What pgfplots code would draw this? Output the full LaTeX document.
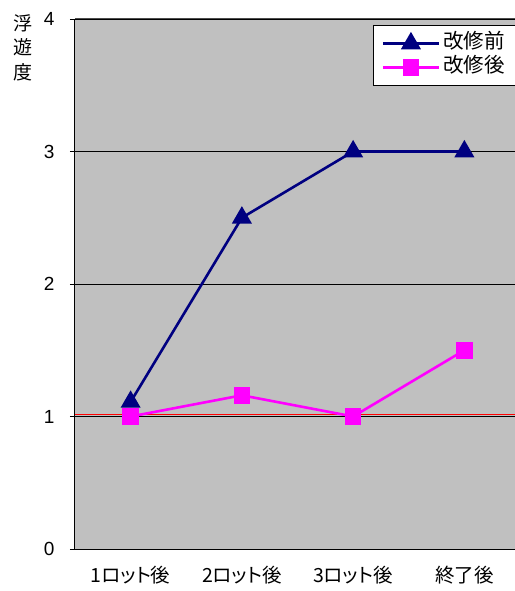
\documentclass[border=0pt]{standalone}
\usepackage{pgfplots}
\pgfplotsset{compat=1.18}
\usepackage{fontspec}
\setmainfont{Liberation Sans}
\newfontfamily\jp{Noto Sans CJK JP}
\newfontfamily\jpp[RawFeature=+palt]{Noto Sans CJK JP}
\definecolor{bg}{HTML}{C0C0C0}
\definecolor{navyc}{HTML}{000080}
\definecolor{magc}{HTML}{FF00FF}
\begin{document}
\begin{tikzpicture}
\begin{axis}[
  at={(0,0)}, anchor=south west,
  scale only axis, width=445pt, height=530pt,
  xmin=-0.5, xmax=3.5, ymin=0, ymax=4,
  axis background/.style={fill=bg},
  axis line style={black, line width=1pt},
  xtick={0,1,2,3},
  xticklabels={{\jpp 1ロット後},{\jpp 2ロット後},{\jpp 3ロット後},{\jpp 終了後}},
  x tick label style={font=\fontsize{19.5}{19.5}\selectfont, yshift=-9pt},
  major x tick style={draw=none},
  extra x ticks={0.5,1.5,2.5},
  extra x tick labels={},
  extra x tick style={tick align=inside, major tick length=5pt, grid=none, black, thin},
  ytick={0,1,2,3,4},
  ymajorgrids, grid style={black, line width=0.8pt},
  y tick label style={font=\fontsize{19}{19}\selectfont, xshift=-12pt},
  tick align=outside, major tick length=5pt,
  y tick style={black},
  /pgf/number format/assume math mode=true,
  axis x line*=bottom, axis y line*=left,
  clip=false,
  legend style={at={(axis cs:2.18,3.955)}, anchor=north west, draw=black, line width=1pt, fill=white,
    font=\fontsize{20.5}{20.5}\selectfont\jp, inner xsep=8pt, inner ysep=7pt,
    nodes={inner xsep=3pt, inner ysep=2pt, text height=14pt, text depth=4pt}, row sep=2pt},
  legend cell align=left,
  legend image code/.code={\draw[mark repeat=2,mark phase=2] plot coordinates {(0pt,0pt) (28pt,0pt) (56pt,0pt)};},
]
\draw[black!70, line width=1pt] (axis cs:-0.5,4) -- (axis cs:3.5,4);
\addplot[red, line width=1.6pt, forget plot] coordinates {(-0.5,1.015) (3.5,1.015)};
\addplot[navyc, line width=2.6pt, mark=triangle*, mark size=9pt, mark options={solid}] coordinates {(0,1.11) (1,2.5) (2,3) (3,3)};
\addlegendentry{改修前}
\addplot[magc, line width=2.6pt, mark=square*, mark size=7pt] coordinates {(0,1) (1,1.16) (2,1) (3,1.5)};
\addlegendentry{改修後}
\node[anchor=north, align=center, font=\fontsize{19}{24.5}\selectfont\jp] at ([xshift=-52pt, yshift=8pt]rel axis cs:0,1) {浮\\遊\\度};
\end{axis}
\pgfresetboundingbox
\path (-75pt,-42pt) rectangle (439pt,549pt);
\end{tikzpicture}
\end{document}
